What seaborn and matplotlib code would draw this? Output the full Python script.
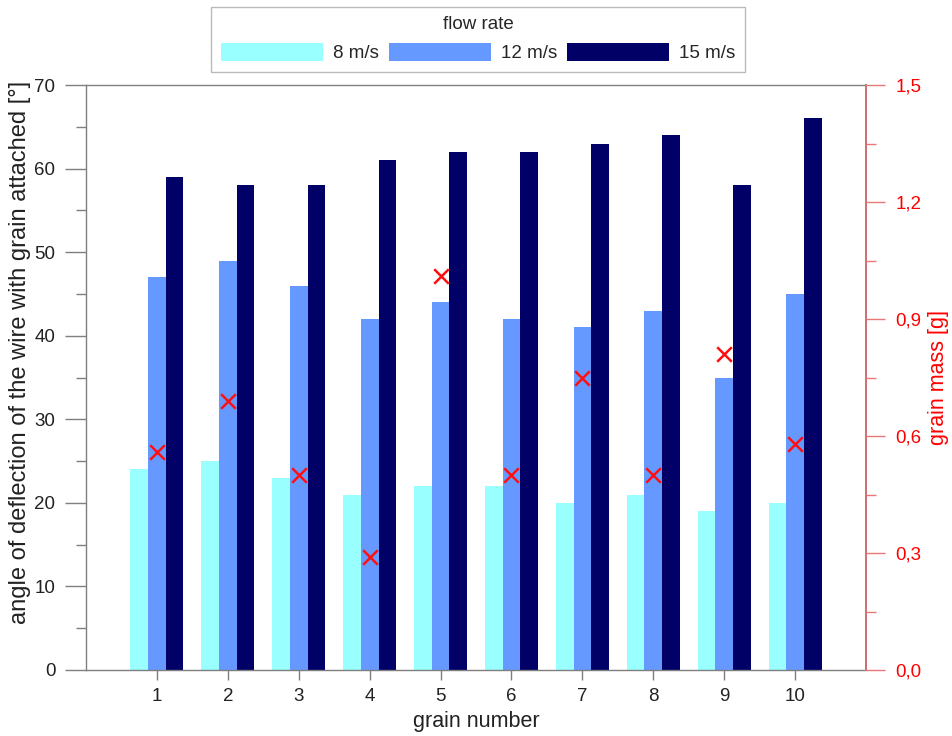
import numpy as np
import pandas as pd
import matplotlib
matplotlib.use("Agg")
import matplotlib.pyplot as plt
from matplotlib.ticker import MultipleLocator, FuncFormatter
import seaborn as sns

grains = ["1", "2", "3", "4", "5", "6", "7", "8", "9", "10"]
flow_rates = ["8 m/s", "12 m/s", "15 m/s"]
angle_8 = [24, 25, 23, 21, 22, 22, 20, 21, 19, 20]
angle_12 = [47, 49, 46, 42, 44, 42, 41, 43, 35, 45]
angle_15 = [59, 58, 58, 61, 62, 62, 63, 64, 58, 66]
grain_mass = [0.56, 0.69, 0.50, 0.29, 1.01, 0.50, 0.75, 0.50, 0.81, 0.58]
colors = ["#99FFFF", "#6699FF", "#000066"]

df = pd.DataFrame({
    "grain": grains * 3,
    "flow": [flow_rates[0]] * 10 + [flow_rates[1]] * 10 + [flow_rates[2]] * 10,
    "angle": angle_8 + angle_12 + angle_15,
})

sns.set_theme(style="white")
plt.rcParams["font.family"] = ["Liberation Sans", "DejaVu Sans"]

fig = plt.figure(figsize=(9.53, 7.36), dpi=100)
ax = fig.add_axes([86/953, 1-670/736, (866-86)/953, (670-85)/736])

sns.barplot(data=df, x="grain", y="angle", hue="flow", hue_order=flow_rates,
            palette=colors, width=0.75, gap=0, saturation=1, ax=ax,
            edgecolor="none", linewidth=0)

ax.set_xlim(-1, 10)
ax.set_ylim(0, 70)
ax.yaxis.set_major_locator(MultipleLocator(10))
ax.yaxis.set_minor_locator(MultipleLocator(5))
gray = "#7f7f7f"
tick_fs = 13.5
ax.tick_params(axis="y", which="major", direction="out", length=15, width=1, color=gray,
               labelsize=tick_fs, labelcolor="#222222", left=True, pad=7)
ax.tick_params(axis="y", which="minor", direction="out", length=7, width=1, color=gray, left=True)
ax.tick_params(axis="x", which="major", direction="out", length=7, width=1, color=gray,
               labelsize=tick_fs, labelcolor="#222222", bottom=True, pad=6)
for s in ["left", "bottom", "top"]:
    ax.spines[s].set_color(gray)
    ax.spines[s].set_linewidth(1)
ax.set_xlabel("grain number", fontsize=15.5, color="#222222", labelpad=4)
ax.set_ylabel("angle of deflection of the wire with grain attached [°]", fontsize=17,
              color="#222222", labelpad=2)
ax.yaxis.set_label_coords(-0.071, 0.543)

handles, labels = ax.get_legend_handles_labels()
ax.get_legend().remove()
fig.legend(handles, labels, title="flow rate", ncol=3, loc="upper center",
           bbox_to_anchor=(478/953, 1-7/736), frameon=True, fancybox=False,
           edgecolor="#aaaaaa", fontsize=13.5, title_fontsize=13.5,
           handlelength=5.44, handleheight=1.15, columnspacing=0.55, handletextpad=0.53,
           borderpad=0.5, labelspacing=0.5, borderaxespad=0)

ax2 = ax.twinx()
x_pos = np.arange(len(grains))
sns.scatterplot(x=x_pos, y=grain_mass, marker="x", s=110, color="#FF1010",
                linewidth=1.8, ax=ax2, zorder=5)
ax2.set_ylim(0, 1.5)
ax2.yaxis.set_major_locator(MultipleLocator(0.3))
ax2.yaxis.set_minor_locator(MultipleLocator(0.15))
ax2.yaxis.set_major_formatter(FuncFormatter(lambda v, p: f"{v:.1f}".replace(".", ",")))
red_light = "#E87878"
ax2.tick_params(axis="y", which="major", direction="out", length=14, width=1, color=red_light,
                labelsize=tick_fs, labelcolor="#FF0000", right=True, pad=7)
ax2.tick_params(axis="y", which="minor", direction="out", length=7, width=1, color=red_light, right=True)
ax2.spines["right"].set_color(red_light)
for s in ["left", "bottom", "top"]:
    ax2.spines[s].set_visible(False)
ax2.set_ylabel("grain mass [g]", fontsize=15.5, color="#FF0000", labelpad=5)
ax2.set_xlim(-1, 10)

fig.savefig("out.png", dpi=100)
